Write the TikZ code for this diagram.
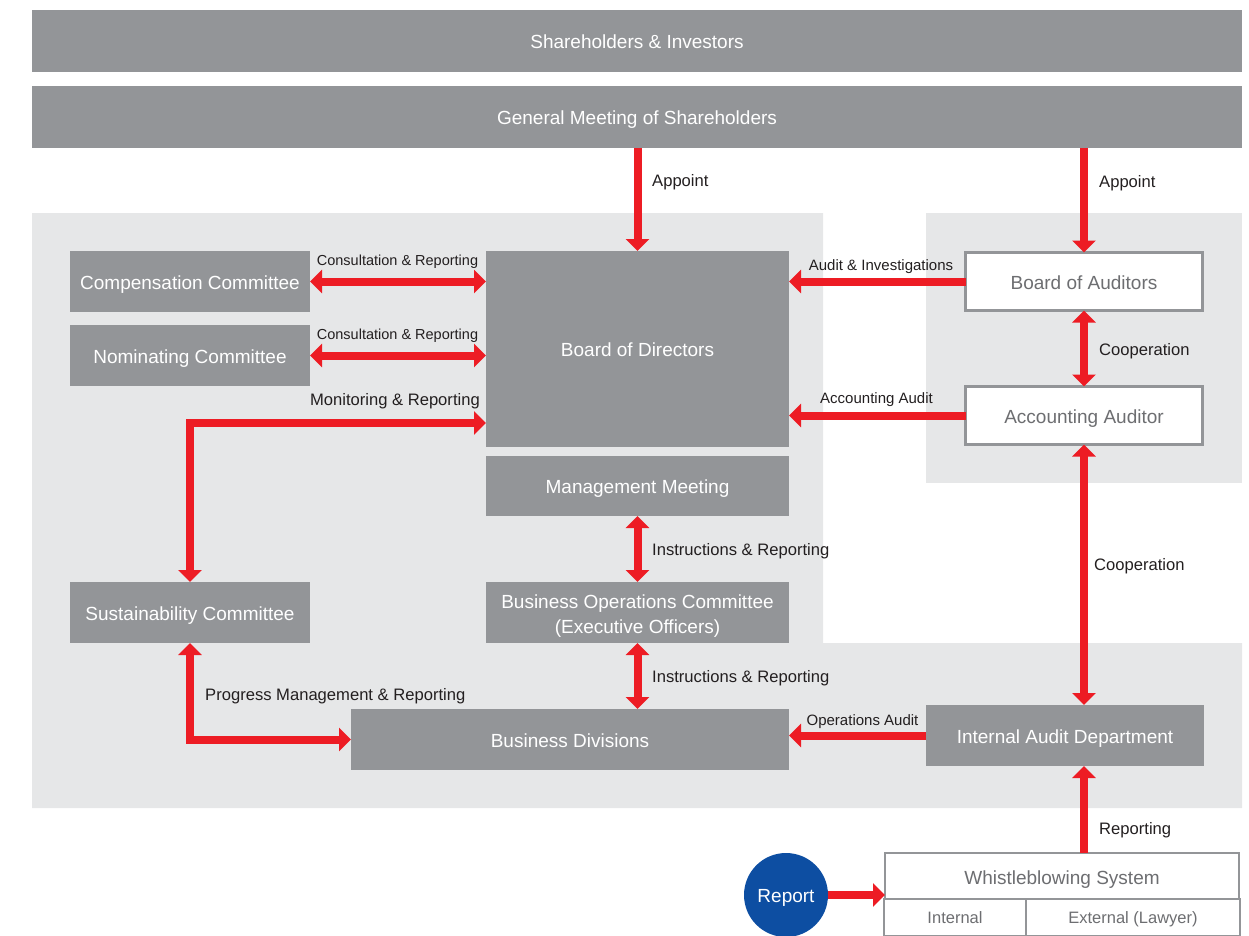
\documentclass[tikz,border=0pt]{standalone}
\usepackage{fontspec}
\setmainfont{Liberation Sans}
\usepackage{tikz}
\usetikzlibrary{arrows.meta,positioning}
\definecolor{bxg}{RGB}{147,149,152}
\definecolor{pnl}{RGB}{230,231,232}
\definecolor{flw}{RGB}{237,28,36}
\definecolor{rpb}{RGB}{13,78,162}
\definecolor{wtx}{RGB}{109,110,113}
\definecolor{ltx}{RGB}{35,31,32}

\begin{document}
\begin{tikzpicture}[x=1pt,y=-1pt,
  box/.style={fill=bxg,text=white,inner sep=0,outer sep=0,align=center,text height=15pt,text depth=0pt,font=\fontsize{19}{24.5}\selectfont},
  wbox/.style={draw=bxg,line width=2.5pt,fill=white,text=wtx,inner sep=0,outer sep=0,text height=15pt,text depth=0pt,font=\fontsize{19}{24}\selectfont},
  flow/.style={draw=flw,line width=8pt,-{Triangle[width=23pt,length=12pt]}},
  both/.style={flow,{Triangle[width=23pt,length=12pt]}-{Triangle[width=23pt,length=12pt]}},
  lbl/.style={text=ltx,inner sep=0,text height=12pt,text depth=0pt,font=\fontsize{16.6}{18}\selectfont},
  slbl/.style={lbl,font=\fontsize{14.5}{16}\selectfont}]
  \useasboundingbox (0,0) rectangle (1249,936);
  % light panels behind the boxes
  \fill[pnl] (32,213) -- (823,213) -- (823,643) -- (1242,643) -- (1242,808) -- (32,808) -- cycle;
  \fill[pnl] (926,213) rectangle (1242,483);

  % boxes
  \node[box,minimum width=1210,minimum height=62] (sh) at (637,41) {Shareholders \& Investors};
  \node[box,minimum width=1210,minimum height=62] (gms) at (637,117) {General Meeting of Shareholders};
  \node[box,minimum width=240,minimum height=61] (comp) at (190,281.5) {Compensation Committee};
  \node[box,minimum width=240,minimum height=61] (nom) at (190,355.5) {Nominating Committee};
  \node[box,minimum width=303,minimum height=196] (bod) at (637.5,349) {Board of Directors};
  \node[box,minimum width=303,minimum height=60] (mm) at (637.5,486) {Management Meeting};
  \node[box,minimum width=303,minimum height=61,text height=41pt,text depth=0pt] (boc) at (637.5,612.5) {Business Operations Committee\\(Executive Officers)};
  \node[box,minimum width=240,minimum height=61] (sus) at (190,612.5) {Sustainability Committee};
  \node[box,minimum width=438,minimum height=61] (bdiv) at (570,739.5) {Business Divisions};
  \node[box,minimum width=278,minimum height=61] (iad) at (1065,735.5) {Internal Audit Department};
  \node[wbox,minimum width=237,minimum height=58] (boa) at (1084,281.5) {Board of Auditors};
  \node[wbox,minimum width=237,minimum height=58] (aa) at (1084,415.5) {Accounting Auditor};
  \node[wbox,line width=2pt,minimum width=354,minimum height=46,text height=17pt] (wb) at (1062,876) {Whistleblowing System};
  \node[wbox,line width=2pt,minimum width=142,minimum height=37,text height=12pt,font=\fontsize{16.5}{18}\selectfont] (wbin) at (955,917.5) {Internal};
  \node[wbox,line width=2pt,minimum width=214,minimum height=37,text height=12pt,font=\fontsize{16.5}{18}\selectfont] (wbex) at (1133,917.5) {External (Lawyer)};
  \node[circle,fill=rpb,text=white,inner sep=0,outer sep=0,minimum size=84,text height=15pt,text depth=0pt,font=\fontsize{19}{22}\selectfont] (rep) at (786,895) {Report};

  % connectors
  \draw[flow] (gms.south -| bod.north) -- (bod.north);
  \draw[flow] (gms.south -| boa.north) -- (boa.north);
  \draw[both] (comp.east) -- (comp.east -| bod.west);
  \draw[both] (nom.east) -- (nom.east -| bod.west);
  \draw[flow] (boa.west) -- (boa.west -| bod.east);
  \draw[flow] (aa.west) -- (aa.west -| bod.east);
  \draw[both] ([yshift=24]bod.south west) -| (sus.north);
  \draw[both] (boa.south) -- (aa.north);
  \draw[both] (mm.south) -- (boc.north);
  \draw[both] (boc.south) -- (boc.south |- bdiv.north);
  \draw[both] (aa.south) -- (aa.south |- iad.north);
  \draw[both] (sus.south) |- (bdiv.west);
  \draw[flow] (iad.west) -- (iad.west -| bdiv.east);
  \draw[flow] (wb.north -| aa.south) -- (iad.south -| aa.south);
  \draw[flow] (rep.east) -- (rep.east -| wb.west);

  % connector labels
  \node[lbl,anchor=west] (la1) at (652,180.5) {Appoint};
  \node[lbl,anchor=west] (la2) at (1099,181.5) {Appoint};
  \node[slbl] (lc1) at (397.5,259) {Consultation \& Reporting};
  \node[slbl] (lc2) at (397.5,333) {Consultation \& Reporting};
  \node[lbl,font=\fontsize{15}{17}\selectfont] (lai) at (881,264) {Audit \& Investigations};
  \node[lbl,font=\fontsize{15}{17}\selectfont] (laa) at (876.5,397) {Accounting Audit};
  \node[lbl,anchor=east] (lmr) at (480,399) {Monitoring \& Reporting};
  \node[lbl,anchor=west] (lco1) at (1099,349) {Cooperation};
  \node[lbl,anchor=west] (lir1) at (652,549) {Instructions \& Reporting};
  \node[lbl,anchor=west] (lir2) at (652,676) {Instructions \& Reporting};
  \node[lbl,anchor=west] (lco2) at (1094,564) {Cooperation};
  \node[lbl,anchor=west] (lpm) at (205,694) {Progress Management \& Reporting};
  \node[lbl,font=\fontsize{15}{17}\selectfont] (loa) at (862.5,719) {Operations Audit};
  \node[lbl,anchor=west] (lrp) at (1099,828) {Reporting};
\end{tikzpicture}
\end{document}
